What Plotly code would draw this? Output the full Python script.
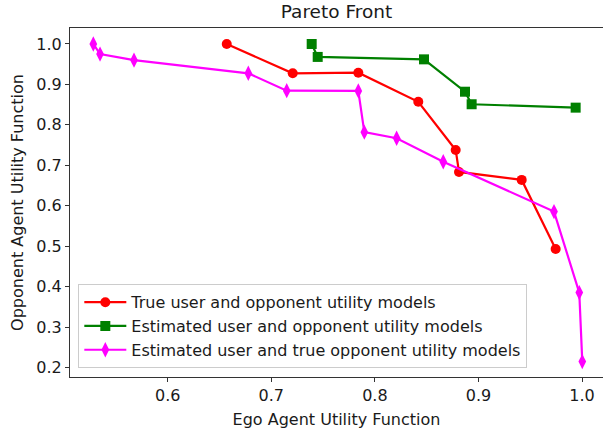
import plotly.graph_objects as go

# True user and opponent utility models
true_x = [0.657, 0.7207, 0.784, 0.8419, 0.878, 0.8812, 0.9417, 0.9745]
true_y = [1.0, 0.9275, 0.929, 0.857, 0.738, 0.6836, 0.664, 0.4933]

# Estimated user and opponent utility models
est_x = [0.739, 0.7448, 0.8474, 0.887, 0.8934, 0.9938]
est_y = [1.0, 0.968, 0.962, 0.882, 0.851, 0.8426]

# Estimated user and true opponent utility models
mix_x = [0.5282, 0.5347, 0.5675, 0.6778, 0.7149, 0.784, 0.7898, 0.821, 0.866, 0.9729, 0.9973, 1.0002]
mix_y = [1.0, 0.975, 0.960, 0.9275, 0.8846, 0.884, 0.782, 0.767, 0.709, 0.5856, 0.3853, 0.2148]

labels = ["True user and opponent utility models",
          "Estimated user and opponent utility models",
          "Estimated user and true opponent utility models"]

x_ticks = [0.6, 0.7, 0.8, 0.9, 1.0]
y_ticks = [0.2, 0.3, 0.4, 0.5, 0.6, 0.7, 0.8, 0.9, 1.0]

fig = go.Figure()
fig.add_trace(go.Scatter(x=true_x, y=true_y, mode="lines+markers", name=labels[0],
                         line=dict(color="#ff0000", width=2.2),
                         marker=dict(symbol="circle", size=10, color="#ff0000")))
fig.add_trace(go.Scatter(x=est_x, y=est_y, mode="lines+markers", name=labels[1],
                         line=dict(color="#008000", width=2.2),
                         marker=dict(symbol="square", size=10, color="#008000")))
fig.add_trace(go.Scatter(x=mix_x, y=mix_y, mode="lines+markers", name=labels[2],
                         line=dict(color="#ff00ff", width=2.2),
                         marker=dict(symbol="diamond-tall", size=11, color="#ff00ff")))

font = "DejaVu Sans"
txt = "#1a1a1a"
fig.update_layout(
    width=603, height=431,
    margin=dict(l=70, r=0, t=28, b=54),
    paper_bgcolor="white", plot_bgcolor="white",
    font=dict(family=font, size=16, color=txt),
    title=dict(text="Pareto Front", x=0.5, xref="paper", xanchor="center",
               y=1 - 12 / 431, yanchor="middle", font=dict(size=18.5, color=txt)),
    xaxis=dict(range=[0.5057, 1.0202], tickvals=x_ticks, ticktext=[f"{v:.1f}" for v in x_ticks],
               showgrid=False, zeroline=False, showline=True, linecolor="#333333", linewidth=1,
               mirror=True, ticks="outside", ticklen=4, tickcolor="#333333",
               tickfont=dict(size=16), automargin=False,
               title=dict(text="Ego Agent Utility Function", font=dict(size=16), standoff=9)),
    yaxis=dict(range=[0.1767, 1.0395], tickvals=y_ticks, ticktext=[f"{v:.1f}" for v in y_ticks],
               showgrid=False, zeroline=False, showline=True, linecolor="#333333", linewidth=1,
               mirror=False, ticks="outside", ticklen=4, tickcolor="#333333",
               tickfont=dict(size=16), automargin=False,
               title=dict(text="Opponent Agent Utility Function", font=dict(size=16), standoff=8)),
    legend=dict(x=0.0156, y=0.025, xanchor="left", yanchor="bottom",
                bgcolor="rgba(255,255,255,0.8)", bordercolor="#cccccc", borderwidth=1,
                font=dict(size=16), itemwidth=42),
    showlegend=True,
)

fig.write_html("out.html", config={"displayModeBar": False},
               post_script="document.body.style.margin='0px';")
